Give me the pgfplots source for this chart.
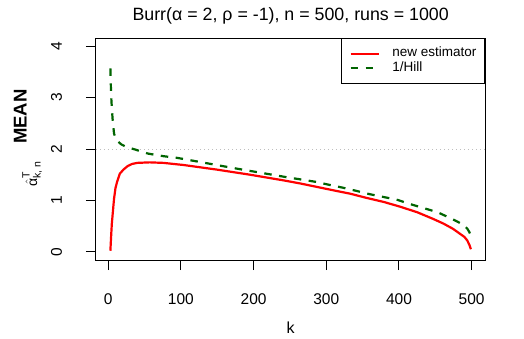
\documentclass[border=0pt]{standalone}
\usepackage{fontspec}
\setmainfont{Liberation Sans}
\usepackage{pgfplots}
\pgfplotsset{compat=1.18}

\definecolor{rred}{HTML}{FF0000}
\definecolor{rgreen}{HTML}{006400}
\definecolor{rgray}{HTML}{BEBEBE}

% mean of the two estimators over k
\pgfplotstableread{
k    val
3    0.02
4    0.30
5    0.55
6    0.71
8    1.03
10   1.24
12   1.35
16   1.52
21   1.60
27   1.67
33   1.71
40   1.73
57   1.74
76   1.73
96   1.70
103  1.69
149  1.60
195  1.50
241  1.39
264  1.33
305  1.21
333  1.13
355  1.05
379  0.97
401  0.88
425  0.77
447  0.64
461  0.55
474  0.45
484  0.35
490  0.29
494  0.22
497  0.13
499  0.05
}\newest

\pgfplotstableread{
k    val
3    3.57
4    3.05
5    2.80
6    2.59
8    2.30
10   2.22
13   2.15
18   2.09
25   2.04
37   1.99
55   1.91
76   1.86
94   1.83
133  1.73
172  1.63
209  1.54
246  1.45
264  1.41
286  1.36
305  1.30
322  1.25
340  1.19
360  1.12
381  1.06
398  1.01
415  0.93
434  0.85
453  0.77
470  0.66
480  0.59
489  0.52
494  0.45
497  0.38
499  0.30
}\hill

\begin{document}
\begin{tikzpicture}
\useasboundingbox (-96pt,-78pt) rectangle (428pt,260pt);
\begin{axis}[
  at={(0pt,0pt)}, anchor=south west,
  scale only axis, width=389.3pt, height=222pt,
  xmin=-16.8, xmax=518.8, ymin=-0.16, ymax=4.16,
  xtick={0,100,...,500}, ytick={0,1,2,3,4},
  tick pos=left, tick align=outside, major tick length=10pt,
  axis line style={line width=1pt},
  tick style={black, line width=1pt},
  /pgf/number format/assume math mode=true,
  ticklabel style={font=\fontsize{15.5}{18}\selectfont},
  xticklabel style={anchor=base, yshift=-34.3pt},
  yticklabel style={xshift=-24pt, rotate=90, anchor=base},
  title={Burr(α = 2, ρ = -1), n = 500, runs = 1000},
  title style={font=\fontsize{17.8}{20}\selectfont, at={(axis description cs:0.5,1)}, anchor=base, yshift=12pt},
  xlabel={k},
  xlabel style={font=\fontsize{16}{19}\selectfont, at={(axis description cs:0.5,0)}, anchor=base, yshift=-73pt},
  ylabel={\fontsize{14}{16}\selectfont$\hat{\hbox{α}}^{\hbox{\fontsize{10.5}{12}\selectfont T}}_{\hbox{\fontsize{10.5}{12}\selectfont k, n}}$\hspace{17pt}\raisebox{10.5pt}{\fontsize{18.5}{20}\selectfont\bfseries MEAN}},
  ylabel style={at={(axis description cs:-0.175,0.55)}, anchor=center},
  legend image code/.code={\draw[#1] (0pt,0pt) -- (28pt,0pt);},
  legend cell align=left,
  legend style={
    at={(rel axis cs:1,1)}, anchor=north east,
    draw=black, line width=1pt, fill=white,
    font=\fontsize{13.5}{15}\selectfont,
    inner xsep=8pt, inner ysep=8pt, row sep=0pt,
    nodes={inner sep=0.5pt, text height=9.7pt, text depth=3.6pt},
    /tikz/every odd column/.append style={column sep=12pt},
  },
]
\addplot[rgray, line width=1pt, dash pattern=on 1pt off 3pt, forget plot] coordinates {(-16.8,2) (518.8,2)};
\addplot[rred, line width=2.2pt] table[x=k, y=val] {\newest};
\addplot[rgreen, line width=2.2pt, dash pattern=on 7.5pt off 7.5pt] table[x=k, y=val] {\hill};
\legend{new estimator, 1/Hill}
\end{axis}
\end{tikzpicture}
\end{document}
